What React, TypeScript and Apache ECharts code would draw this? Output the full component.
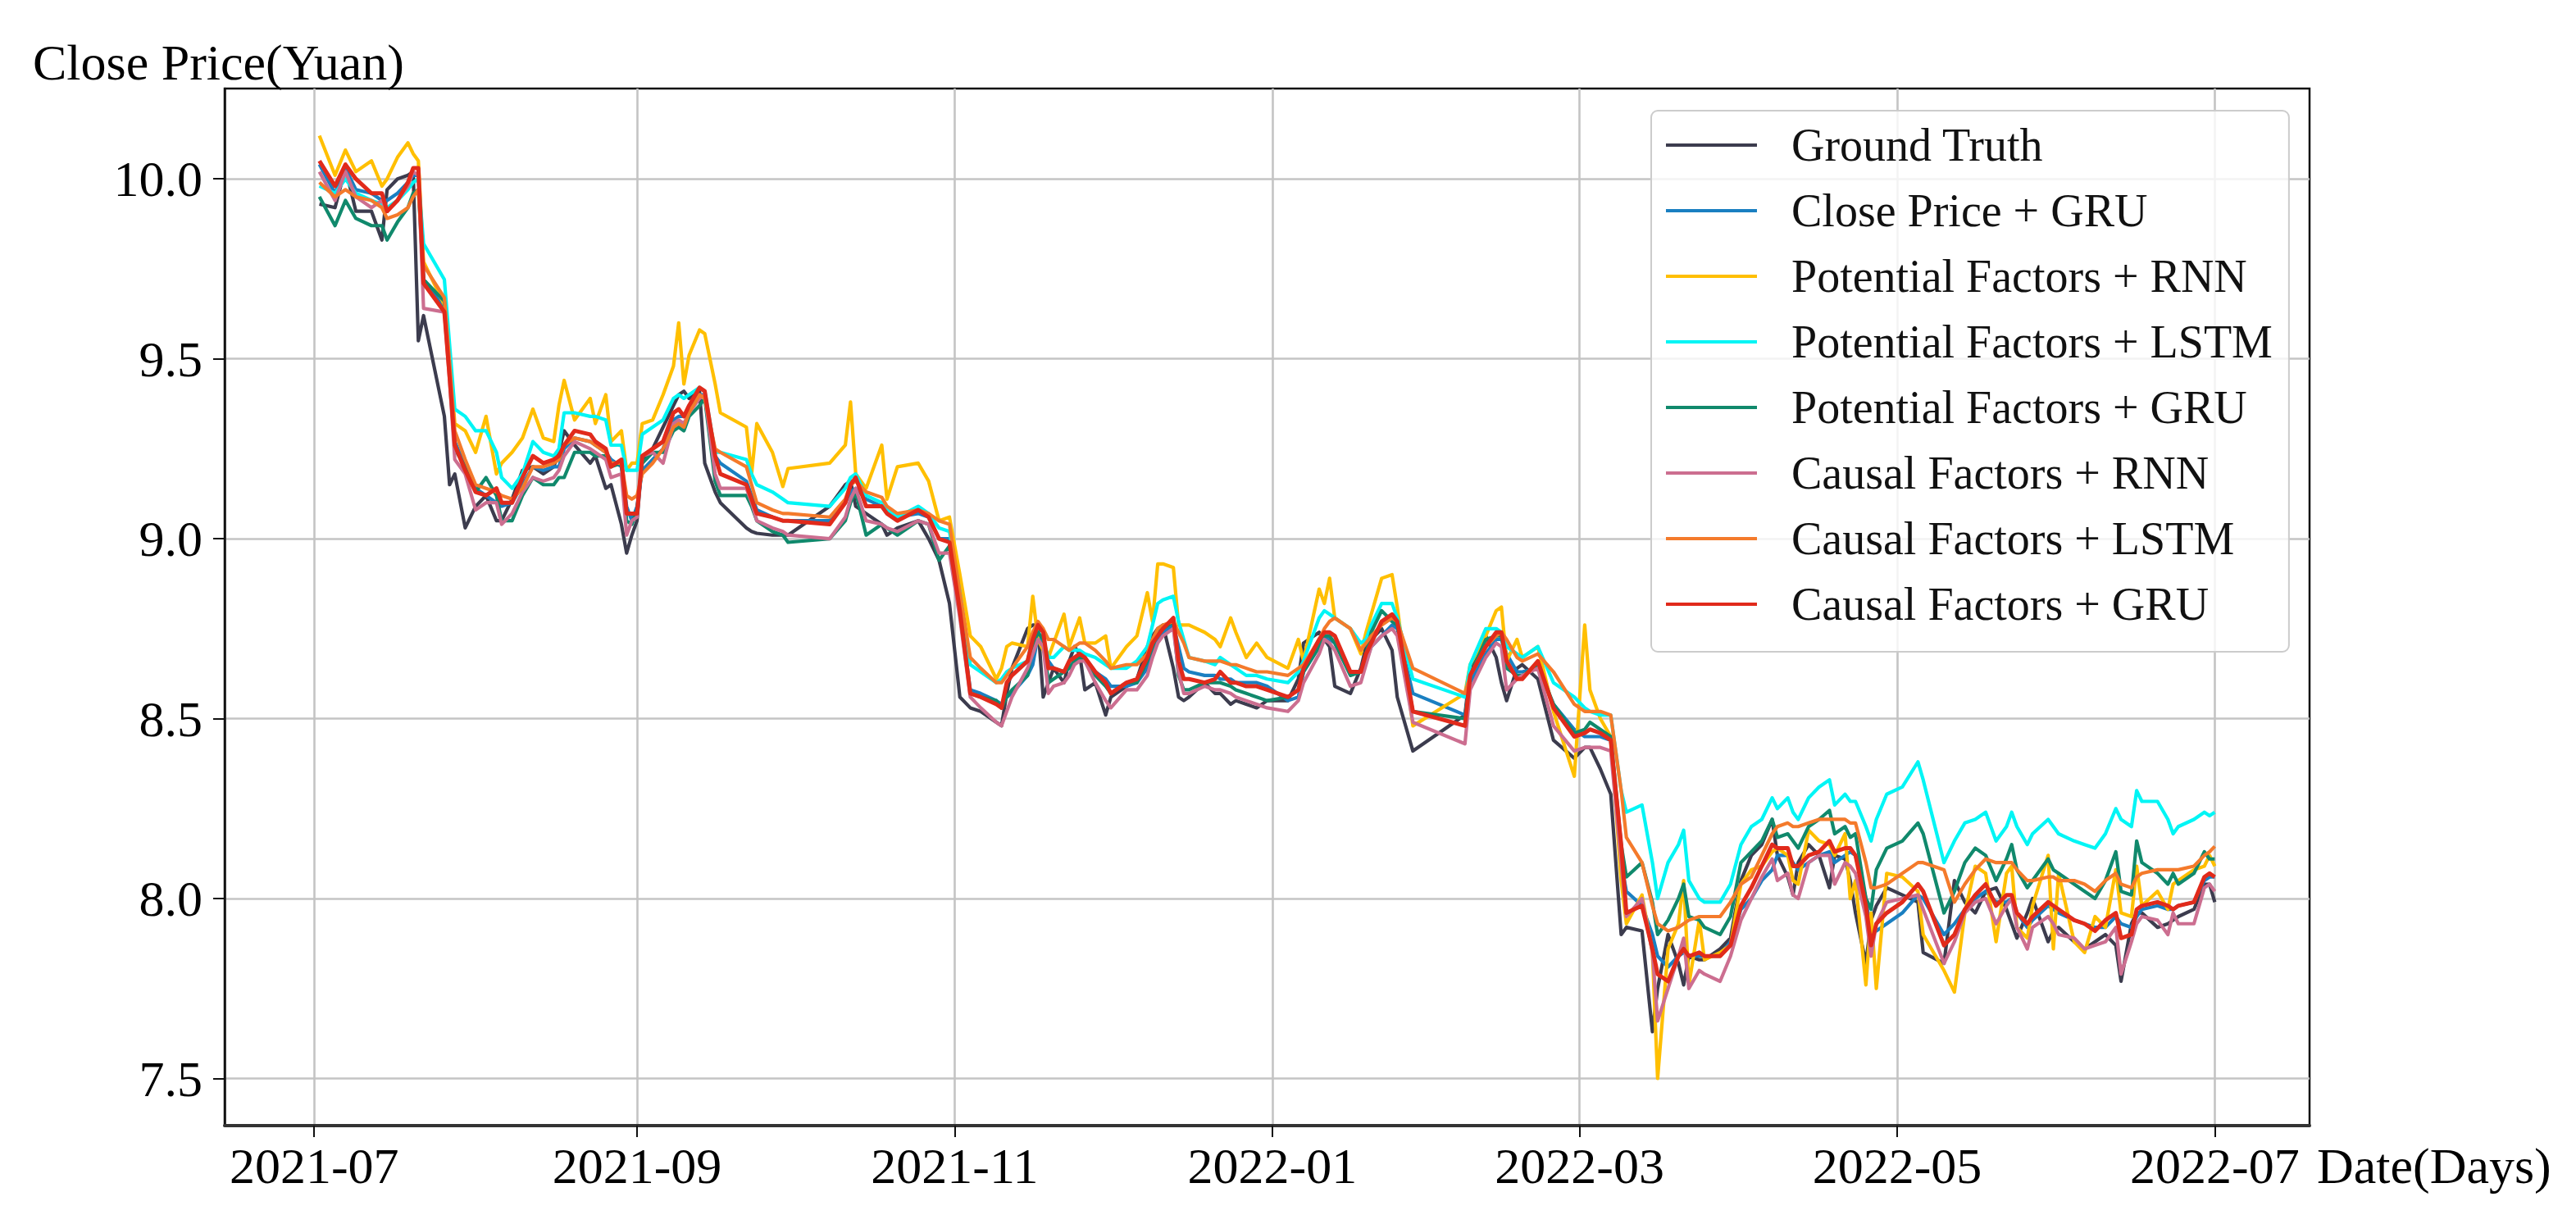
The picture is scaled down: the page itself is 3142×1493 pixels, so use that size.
import React, { useEffect, useRef } from "react";
import * as echarts from "echarts";

const SERIES_NAMES = [
  "Ground Truth",
  "Close Price + GRU",
  "Potential Factors + RNN",
  "Potential Factors + LSTM",
  "Potential Factors + GRU",
  "Causal Factors + RNN",
  "Causal Factors + LSTM",
  "Causal Factors + GRU",
];
const SERIES_COLORS = ["#3c3c4e", "#1a7fc1", "#ffbf00", "#00f5f5", "#10896c", "#cc6e90", "#f47a2b", "#e12a1b"];

const DATES = [
  "2021-07-02", "2021-07-05", "2021-07-07", "2021-07-09", "2021-07-12", "2021-07-14", "2021-07-15", "2021-07-17", "2021-07-19", "2021-07-20",
  "2021-07-21", "2021-07-22", "2021-07-26", "2021-07-27", "2021-07-28", "2021-07-30", "2021-08-01", "2021-08-03", "2021-08-05", "2021-08-06",
  "2021-08-08", "2021-08-10", "2021-08-12", "2021-08-14", "2021-08-16", "2021-08-17", "2021-08-18", "2021-08-20", "2021-08-23", "2021-08-24",
  "2021-08-26", "2021-08-27", "2021-08-29", "2021-08-30", "2021-08-31",
  "2021-09-01", "2021-09-02", "2021-09-04", "2021-09-06", "2021-09-08", "2021-09-09", "2021-09-10", "2021-09-11", "2021-09-13", "2021-09-14",
  "2021-09-16", "2021-09-17", "2021-09-22", "2021-09-23", "2021-09-24", "2021-09-27", "2021-09-29", "2021-09-30", "2021-10-08", "2021-10-11",
  "2021-10-12", "2021-10-13", "2021-10-15", "2021-10-18", "2021-10-19", "2021-10-21", "2021-10-25", "2021-10-27", "2021-10-29",
  "2021-10-31", "2021-11-02", "2021-11-04", "2021-11-06", "2021-11-09", "2021-11-10", "2021-11-11", "2021-11-12", "2021-11-15", "2021-11-16",
  "2021-11-17", "2021-11-18", "2021-11-19", "2021-11-20", "2021-11-22", "2021-11-23", "2021-11-24", "2021-11-25", "2021-11-26", "2021-11-28",
  "2021-11-30", "2021-12-01", "2021-12-04", "2021-12-06", "2021-12-08", "2021-12-09", "2021-12-10", "2021-12-11", "2021-12-13", "2021-12-14",
  "2021-12-15", "2021-12-16", "2021-12-19", "2021-12-21", "2021-12-22", "2021-12-24", "2021-12-25", "2021-12-27", "2021-12-29", "2021-12-31",
  "2022-01-04", "2022-01-06", "2022-01-07", "2022-01-10", "2022-01-11", "2022-01-12", "2022-01-13", "2022-01-16", "2022-01-18", "2022-01-19",
  "2022-01-20", "2022-01-22", "2022-01-24", "2022-01-25", "2022-01-28", "2022-02-07", "2022-02-08", "2022-02-11", "2022-02-13", "2022-02-14",
  "2022-02-15", "2022-02-17", "2022-02-18", "2022-02-21",
  "2022-02-24", "2022-02-28", "2022-03-02", "2022-03-03", "2022-03-05", "2022-03-07", "2022-03-09", "2022-03-10", "2022-03-13", "2022-03-15",
  "2022-03-16", "2022-03-18", "2022-03-20", "2022-03-21", "2022-03-22", "2022-03-24", "2022-03-25", "2022-03-28", "2022-03-30", "2022-04-01",
  "2022-04-03", "2022-04-05", "2022-04-07", "2022-04-08", "2022-04-10", "2022-04-11", "2022-04-12", "2022-04-14", "2022-04-16", "2022-04-18",
  "2022-04-19", "2022-04-21", "2022-04-22", "2022-04-23", "2022-04-25", "2022-04-26", "2022-04-27", "2022-04-29",
  "2022-05-02", "2022-05-05", "2022-05-06", "2022-05-10", "2022-05-12", "2022-05-14", "2022-05-16", "2022-05-18", "2022-05-20", "2022-05-22",
  "2022-05-23", "2022-05-24", "2022-05-26", "2022-05-27", "2022-05-30", "2022-05-31", "2022-06-01", "2022-06-04", "2022-06-06", "2022-06-08",
  "2022-06-10", "2022-06-12", "2022-06-13", "2022-06-15", "2022-06-16", "2022-06-17", "2022-06-20", "2022-06-22", "2022-06-23", "2022-06-24",
  "2022-06-27", "2022-06-29", "2022-06-30", "2022-07-01",
];

const GROUND_TRUTH = [
  9.93, 9.92, 10.03, 9.91, 9.91, 9.83, 9.97, 10.0, 10.01, 10.02, 9.55, 9.62, 9.34, 9.15, 9.18, 9.03, 9.09, 9.12, 9.05, 9.05,
  9.11, 9.19, 9.2, 9.18, 9.2, 9.24, 9.3, 9.26, 9.21, 9.23, 9.14, 9.15, 9.04, 8.96, 9.01,
  9.05, 9.22, 9.25, 9.31, 9.37, 9.4, 9.41, 9.39, 9.41, 9.21, 9.13, 9.1, 9.03, 9.02, 9.015, 9.01, 9.01, 9.01, 9.09, 9.15,
  9.16, 9.09, 9.07, 9.04, 9.01, 9.03, 9.05, 9.0, 8.94,
  8.82, 8.56, 8.53, 8.52, 8.49, 8.48, 8.57, 8.64, 8.75, 8.76, 8.76, 8.56, 8.6, 8.64, 8.6, 8.66, 8.7, 8.68, 8.58, 8.6,
  8.51, 8.56, 8.59, 8.61, 8.7, 8.73, 8.75, 8.76, 8.64, 8.56, 8.55, 8.56, 8.6, 8.57, 8.57, 8.54, 8.55, 8.54, 8.53, 8.55,
  8.55, 8.61, 8.71, 8.74, 8.72, 8.7, 8.59, 8.57, 8.64, 8.7, 8.72, 8.75, 8.69, 8.56, 8.41, 8.51, 8.64, 8.73, 8.67, 8.6,
  8.55, 8.64, 8.65, 8.61,
  8.44, 8.39, 8.42, 8.42, 8.36, 8.29, 7.9, 7.92, 7.91, 7.63, 7.75, 7.9, 7.82, 7.76, 7.84, 7.83, 7.83, 7.86, 7.89, 8.05,
  8.12, 8.15, 8.22, 8.12, 8.06, 8.01, 8.1, 8.15, 8.12, 8.03, 8.12, 8.11, 8.05, 7.96, 7.82, 7.94, 7.98, 8.03,
  8.01, 7.99, 7.85, 7.82, 8.05, 7.99, 7.96, 8.02, 8.03, 7.97, 7.93, 7.89, 7.96, 8.0, 7.88, 7.91, 7.92, 7.88, 7.86, 7.88,
  7.9, 7.87, 7.77, 7.93, 7.96, 7.96, 7.92, 7.93, 7.94, 7.95, 7.97, 8.04, 8.04, 7.99,
];

const CLOSE_PRICE_GRU = [
  10.04, 9.96, 10.03, 9.97, 9.96, 9.94, 9.94, 9.96, 9.99, 10.01, 10.01, 9.72, 9.64, 9.46, 9.27, 9.2, 9.14, 9.12, 9.1, 9.09,
  9.1, 9.15, 9.2, 9.19, 9.2, 9.2, 9.25, 9.28, 9.27, 9.26, 9.24, 9.22, 9.2, 9.09, 9.05,
  9.09, 9.19, 9.22, 9.25, 9.33, 9.34, 9.34, 9.37, 9.4, 9.4, 9.23, 9.21, 9.16, 9.12, 9.08, 9.06, 9.05, 9.05, 9.05, 9.1,
  9.13, 9.14, 9.11, 9.09, 9.07, 9.06, 9.07, 9.06, 9.0,
  9.0, 8.8, 8.58, 8.57, 8.55, 8.54, 8.56, 8.57, 8.62, 8.65, 8.73, 8.7, 8.66, 8.64, 8.63, 8.64, 8.66, 8.67, 8.67, 8.63,
  8.61, 8.59, 8.59, 8.6, 8.64, 8.68, 8.72, 8.74, 8.76, 8.7, 8.64, 8.63, 8.62, 8.62, 8.61, 8.61, 8.6, 8.6, 8.6, 8.59,
  8.55, 8.56, 8.63, 8.7, 8.73, 8.72, 8.71, 8.63, 8.63, 8.66, 8.7, 8.73, 8.76, 8.75, 8.57, 8.51, 8.6, 8.68, 8.72, 8.72,
  8.68, 8.63, 8.63, 8.64,
  8.54, 8.47, 8.45, 8.45, 8.45, 8.44, 8.1, 8.02, 7.98, 7.9, 7.84, 7.81, 7.84, 7.85, 7.84, 7.84, 7.84, 7.84, 7.88, 7.97,
  8.0, 8.05, 8.08, 8.12, 8.12, 8.1, 8.08, 8.1, 8.12, 8.13, 8.1, 8.12, 8.13, 8.12, 8.0, 7.9, 7.91, 7.93,
  7.96, 8.01, 8.0, 7.9, 7.93, 7.97, 8.0, 8.02, 7.99, 7.99, 8.0, 7.96, 7.92, 7.94, 7.98, 7.97, 7.96, 7.94, 7.93, 7.92,
  7.92, 7.95, 7.93, 7.92, 7.95, 7.97, 7.98, 7.97, 7.97, 7.98, 7.99, 8.05, 8.06, 8.06,
];

const POTENTIAL_RNN = [
  10.12, 10.01, 10.08, 10.02, 10.05, 9.98, 10.0, 10.06, 10.1, 10.07, 10.05, 9.77, 9.65, 9.5, 9.32, 9.3, 9.24, 9.34, 9.18, 9.21,
  9.24, 9.28, 9.36, 9.28, 9.27, 9.37, 9.44, 9.33, 9.39, 9.32, 9.4, 9.27, 9.3, 9.19, 9.21,
  9.21, 9.32, 9.33, 9.4, 9.48, 9.6, 9.43, 9.51, 9.58, 9.57, 9.43, 9.35, 9.31, 9.18, 9.32, 9.24, 9.145, 9.195, 9.21, 9.26,
  9.38, 9.18, 9.14, 9.26, 9.11, 9.2, 9.21, 9.16, 9.05,
  9.06, 8.9, 8.73, 8.7, 8.61, 8.64, 8.7, 8.71, 8.7, 8.84, 8.72, 8.69, 8.67, 8.71, 8.79, 8.7, 8.74, 8.78, 8.71, 8.71,
  8.73, 8.64, 8.7, 8.73, 8.85, 8.77, 8.93, 8.93, 8.92, 8.76, 8.76, 8.76, 8.74, 8.72, 8.7, 8.78, 8.74, 8.67, 8.71, 8.67,
  8.64, 8.72, 8.66, 8.86, 8.82, 8.89, 8.78, 8.75, 8.68, 8.74, 8.79, 8.89, 8.9, 8.81, 8.48, 8.57, 8.65, 8.73, 8.8, 8.81,
  8.66, 8.72, 8.67, 8.7,
  8.52, 8.34, 8.76, 8.58, 8.5, 8.45, 8.05, 7.93, 8.01, 7.85, 7.5, 7.86, 7.93, 8.05, 7.76, 7.94, 7.83, 7.85, 7.87, 8.04,
  8.08, 8.09, 8.13, 8.14, 8.12, 8.05, 8.04, 8.19, 8.16, 8.15, 8.12, 8.18, 8.0, 8.05, 7.76, 7.96, 7.75, 8.07,
  8.06, 8.02, 7.9, 7.8, 7.74, 7.96, 8.09, 8.07, 7.88, 8.07, 8.09, 7.92, 7.89, 7.98, 8.12, 7.86, 8.07, 7.88, 7.85, 7.95,
  7.92, 8.08, 7.96, 7.95, 8.09, 7.98, 8.02, 7.97, 8.04, 8.05, 8.08, 8.09, 8.12, 8.09,
];

const POTENTIAL_LSTM = [
  9.98, 9.96, 10.0, 9.96, 9.94, 9.93, 9.92, 9.94, 9.97, 9.99, 10.0, 9.82, 9.72, 9.54, 9.36, 9.34, 9.3, 9.3, 9.24, 9.17,
  9.14, 9.18, 9.27, 9.24, 9.23, 9.25, 9.35, 9.35, 9.34, 9.34, 9.33, 9.26, 9.26, 9.19, 9.19,
  9.19, 9.29, 9.31, 9.33, 9.39, 9.4, 9.39, 9.4, 9.42, 9.41, 9.24, 9.24, 9.22, 9.18, 9.15, 9.13, 9.11, 9.1, 9.09, 9.14,
  9.17, 9.18, 9.12, 9.1, 9.08, 9.06, 9.09, 9.07, 9.03,
  9.02, 8.85, 8.65, 8.63, 8.6, 8.61, 8.63, 8.64, 8.66, 8.73, 8.74, 8.72, 8.67, 8.67, 8.7, 8.69, 8.69, 8.69, 8.68, 8.67,
  8.65, 8.64, 8.64, 8.66, 8.7, 8.76, 8.82, 8.83, 8.84, 8.77, 8.72, 8.67, 8.66, 8.65, 8.67, 8.65, 8.64, 8.62, 8.62, 8.61,
  8.6, 8.63, 8.66, 8.78, 8.8, 8.79, 8.78, 8.75, 8.71, 8.72, 8.76, 8.82, 8.82, 8.78, 8.61, 8.56, 8.65, 8.75, 8.75, 8.74,
  8.7, 8.68, 8.67, 8.7,
  8.6, 8.56, 8.53, 8.52, 8.51, 8.51, 8.3, 8.24, 8.26, 8.1, 8.0, 8.1, 8.15, 8.19, 8.05, 8.0, 7.99, 7.99, 8.04, 8.15,
  8.2, 8.22, 8.28, 8.25, 8.28, 8.24, 8.22, 8.28, 8.31, 8.33, 8.26, 8.29, 8.27, 8.27, 8.2, 8.16, 8.22, 8.29,
  8.31, 8.38, 8.33, 8.1, 8.16, 8.21, 8.22, 8.24, 8.16, 8.2, 8.24, 8.2, 8.15, 8.18, 8.22, 8.2, 8.18, 8.16, 8.15, 8.14,
  8.18, 8.25, 8.22, 8.2, 8.3, 8.27, 8.27, 8.22, 8.18, 8.2, 8.22, 8.24, 8.23, 8.24,
];

const POTENTIAL_GRU = [
  9.95, 9.87, 9.94, 9.89, 9.87, 9.87, 9.83, 9.88, 9.92, 9.96, 9.97, 9.72, 9.66, 9.46, 9.25, 9.2, 9.13, 9.17, 9.12, 9.05,
  9.05, 9.12, 9.17, 9.15, 9.15, 9.17, 9.17, 9.24, 9.24, 9.23, 9.23, 9.2, 9.21, 9.05, 9.04,
  9.08, 9.21, 9.24, 9.24, 9.3, 9.31, 9.3, 9.34, 9.37, 9.39, 9.16, 9.12, 9.12, 9.09, 9.05, 9.02, 9.01, 8.99, 9.0, 9.05,
  9.1, 9.13, 9.01, 9.04, 9.03, 9.01, 9.05, 9.04, 8.94,
  8.98, 8.8, 8.57, 8.56, 8.55, 8.53, 8.56, 8.58, 8.62, 8.7, 8.74, 8.72, 8.6, 8.61, 8.63, 8.64, 8.66, 8.67, 8.66, 8.62,
  8.59, 8.57, 8.6, 8.6, 8.66, 8.7, 8.74, 8.75, 8.77, 8.62, 8.58, 8.58, 8.6, 8.6, 8.6, 8.59, 8.58, 8.57, 8.56, 8.55,
  8.56, 8.58, 8.63, 8.7, 8.73, 8.73, 8.71, 8.62, 8.63, 8.68, 8.74, 8.8, 8.77, 8.76, 8.52, 8.5, 8.62, 8.72, 8.73, 8.73,
  8.64, 8.62, 8.62, 8.65,
  8.54, 8.46, 8.47, 8.49, 8.47, 8.45, 8.15, 8.06, 8.1, 7.99, 7.9, 7.94, 8.0, 8.04, 7.95, 7.94, 7.92, 7.9, 7.95, 8.1,
  8.13, 8.16, 8.22, 8.17, 8.18, 8.16, 8.14, 8.2, 8.22, 8.245, 8.18, 8.2, 8.17, 8.18, 8.0, 7.97, 8.08, 8.14,
  8.16, 8.21, 8.18, 7.96, 8.02, 8.1, 8.14, 8.12, 8.05, 8.11, 8.15, 8.08, 8.03, 8.05, 8.11, 8.08, 8.07, 8.04, 8.02, 8.0,
  8.05, 8.13, 8.02, 8.01, 8.16, 8.1, 8.07, 8.04, 8.07, 8.04, 8.07, 8.13, 8.11, 8.11,
];

const CAUSAL_RNN = [
  10.02, 9.94, 10.02, 9.95, 9.92, 9.94, 9.91, 9.94, 9.98, 10.02, 10.01, 9.64, 9.63, 9.44, 9.22, 9.18, 9.08, 9.1, 9.1, 9.04,
  9.07, 9.13, 9.17, 9.16, 9.17, 9.19, 9.23, 9.27, 9.25, 9.24, 9.22, 9.17, 9.18, 9.01, 9.05,
  9.06, 9.23, 9.24, 9.21, 9.32, 9.33, 9.32, 9.35, 9.39, 9.4, 9.18, 9.14, 9.14, 9.1, 9.05, 9.03, 9.02, 9.01, 9.0, 9.06,
  9.11, 9.14, 9.05, 9.04, 9.03, 9.02, 9.05, 9.04, 8.96,
  8.96, 8.78, 8.56, 8.53, 8.49, 8.48, 8.52, 8.56, 8.64, 8.68, 8.72, 8.7, 8.57, 8.59, 8.6, 8.62, 8.65, 8.66, 8.66, 8.6,
  8.55, 8.53, 8.58, 8.58, 8.62, 8.67, 8.71, 8.73, 8.75, 8.63, 8.57, 8.57, 8.59, 8.58, 8.58, 8.57, 8.56, 8.55, 8.54, 8.53,
  8.52, 8.55, 8.6, 8.68, 8.72, 8.71, 8.69, 8.59, 8.6, 8.65, 8.7, 8.73, 8.75, 8.73, 8.49, 8.43, 8.58, 8.67, 8.71, 8.7,
  8.58, 8.61, 8.62, 8.64,
  8.48, 8.41, 8.42, 8.42, 8.42, 8.41, 8.1, 7.95, 8.0, 7.85, 7.66, 7.75, 7.84, 7.89, 7.75, 7.8, 7.79, 7.77, 7.84, 7.94,
  8.0, 8.06, 8.11, 8.05, 8.07, 8.01, 8.0, 8.1, 8.12, 8.12, 8.04, 8.1, 8.09, 8.07, 7.95, 7.84, 7.93, 7.99,
  8.0, 8.01, 7.97, 7.82, 7.88, 7.96, 7.99, 8.0, 7.93, 7.98, 8.0, 7.92, 7.86, 7.92, 7.95, 7.93, 7.9, 7.89, 7.86, 7.87,
  7.88, 7.92, 7.79, 7.88, 7.93, 7.95, 7.94, 7.9, 7.96, 7.93, 7.93, 8.03, 8.04, 8.02,
];

const CAUSAL_LSTM = [
  9.99, 9.95, 9.97, 9.95, 9.94, 9.92, 9.89, 9.9, 9.92, 9.95, 9.97, 9.76, 9.67, 9.49, 9.3, 9.22, 9.15, 9.14, 9.13, 9.12,
  9.11, 9.14, 9.2, 9.2, 9.21, 9.22, 9.26, 9.28, 9.27, 9.26, 9.24, 9.21, 9.21, 9.12, 9.11,
  9.12, 9.18, 9.21, 9.25, 9.31, 9.32, 9.31, 9.35, 9.4, 9.39, 9.25, 9.24, 9.2, 9.15, 9.1, 9.08, 9.07, 9.07, 9.06, 9.11,
  9.15, 9.16, 9.13, 9.115, 9.09, 9.07, 9.08, 9.07, 9.05,
  9.04, 8.85, 8.67, 8.64, 8.6, 8.6, 8.62, 8.64, 8.7, 8.74, 8.77, 8.75, 8.72, 8.72, 8.7, 8.69, 8.7, 8.71, 8.71, 8.69,
  8.66, 8.64, 8.65, 8.65, 8.68, 8.72, 8.75, 8.76, 8.77, 8.74, 8.71, 8.67, 8.66, 8.66, 8.66, 8.65, 8.65, 8.64, 8.63, 8.63,
  8.62, 8.64, 8.65, 8.72, 8.75, 8.77, 8.78, 8.75, 8.69, 8.71, 8.73, 8.76, 8.78, 8.77, 8.64, 8.57, 8.62, 8.7, 8.73, 8.74,
  8.72, 8.67, 8.66, 8.68,
  8.63, 8.54, 8.52, 8.52, 8.52, 8.51, 8.3, 8.17, 8.1, 7.98, 7.93, 7.91, 7.92, 7.93, 7.94, 7.95, 7.95, 7.95, 7.99, 8.04,
  8.06, 8.12, 8.18, 8.2, 8.21, 8.2, 8.2, 8.21, 8.22, 8.22, 8.22, 8.22, 8.21, 8.21, 8.1, 8.03, 8.03, 8.04,
  8.07, 8.1, 8.1, 8.08, 7.99, 8.04, 8.08, 8.11, 8.1, 8.1, 8.1, 8.08, 8.05, 8.05, 8.06, 8.06, 8.05, 8.05, 8.04, 8.02,
  8.05, 8.07, 8.04, 8.03, 8.06, 8.07, 8.08, 8.08, 8.08, 8.08, 8.09, 8.12, 8.13, 8.145,
];

const CAUSAL_GRU = [
  10.05, 9.98, 10.04, 10.0, 9.96, 9.96, 9.91, 9.94, 9.99, 10.03, 10.03, 9.71, 9.63, 9.45, 9.26, 9.19, 9.13, 9.12, 9.14, 9.1,
  9.1, 9.17, 9.23, 9.21, 9.22, 9.23, 9.26, 9.3, 9.29, 9.27, 9.25, 9.2, 9.22, 9.07, 9.07,
  9.07, 9.23, 9.25, 9.27, 9.35, 9.36, 9.34, 9.37, 9.42, 9.41, 9.23, 9.18, 9.15, 9.11, 9.07, 9.06, 9.05, 9.05, 9.04, 9.1,
  9.15, 9.17, 9.09, 9.09, 9.07, 9.05, 9.08, 9.06, 9.0,
  8.99, 8.8, 8.57, 8.56, 8.54, 8.53, 8.6, 8.62, 8.66, 8.72, 8.76, 8.74, 8.64, 8.64, 8.63, 8.66, 8.67, 8.68, 8.67, 8.63,
  8.6, 8.57, 8.6, 8.61, 8.67, 8.71, 8.73, 8.75, 8.78, 8.66, 8.61, 8.61, 8.6, 8.61, 8.63, 8.6, 8.6, 8.59, 8.59, 8.58,
  8.56, 8.58, 8.64, 8.72, 8.74, 8.74, 8.73, 8.63, 8.63, 8.68, 8.71, 8.77, 8.79, 8.77, 8.52, 8.48, 8.62, 8.7, 8.74, 8.74,
  8.66, 8.61, 8.61, 8.66,
  8.53, 8.45, 8.46, 8.47, 8.46, 8.44, 8.15, 7.96, 7.98, 7.86, 7.79, 7.77, 7.84, 7.86, 7.84, 7.85, 7.84, 7.84, 7.87, 7.98,
  8.03, 8.09, 8.15, 8.14, 8.14, 8.09, 8.09, 8.12, 8.13, 8.16, 8.13, 8.14, 8.14, 8.12, 7.98, 7.87, 7.93, 7.96,
  7.99, 8.04, 8.02, 7.87, 7.9, 7.97, 8.01, 8.04, 7.98, 8.01, 8.01, 7.96, 7.93, 7.95, 7.99, 7.98, 7.97, 7.94, 7.93, 7.91,
  7.94, 7.96, 7.89, 7.9, 7.97, 7.98, 7.99, 7.98, 7.97, 7.98, 7.99, 8.06, 8.07, 8.06,
];

const SERIES_VALUES = [
  GROUND_TRUTH,
  CLOSE_PRICE_GRU,
  POTENTIAL_RNN,
  POTENTIAL_LSTM,
  POTENTIAL_GRU,
  CAUSAL_RNN,
  CAUSAL_LSTM,
  CAUSAL_GRU,
];

const X_TICKS = ["2021-07-01", "2021-09-01", "2021-11-01", "2022-01-01", "2022-03-01", "2022-05-01", "2022-07-01"];
const Y_TICKS = [7.5, 8.0, 8.5, 9.0, 9.5, 10.0];

const Y_TITLE = "Close Price(Yuan)";
const X_TITLE = "Date(Days)";

const FONT = "'Liberation Serif', 'Times New Roman', serif";

function toMs(s: string): number {
  const [y, m, d] = s.split("-").map(Number);
  return Date.UTC(y, m - 1, d);
}

export default function App() {
  const ref = useRef<HTMLDivElement>(null);

  useEffect(() => {
    document.body.style.margin = "0";
    if (!ref.current) return;
    const chart = echarts.init(ref.current, undefined, { renderer: "svg" });

    const xs = DATES.map(toMs);
    const xFirst = xs[0];
    const xLast = xs[xs.length - 1];
    const xSpan = xLast - xFirst;
    const allVals = SERIES_VALUES.flat();
    const yMinD = Math.min(...allVals);
    const yMaxD = Math.max(...allVals);
    const ySpan = yMaxD - yMinD;

    const series = SERIES_NAMES.map((name, i) => ({
      name,
      type: "line",
      data: xs.map((x, j) => [x, SERIES_VALUES[i][j]]),
      showSymbol: false,
      symbol: "none",
      lineStyle: { color: SERIES_COLORS[i], width: i === 7 ? 5 : 4.2, join: "round" },
      itemStyle: { color: SERIES_COLORS[i] },
      emphasis: { disabled: true },
      z: 3 + i,
    }));

    chart.setOption({
      animation: false,
      backgroundColor: "#ffffff",
      grid: {
        left: 274,
        right: 325,
        top: 108,
        bottom: 120,
        show: true,
        borderColor: "#111111",
        borderWidth: 2.5,
        containLabel: false,
      },
      xAxis: {
        type: "value",
        min: xFirst - 0.05 * xSpan,
        max: xLast + 0.05 * xSpan,
        axisLine: { show: true, onZero: false, lineStyle: { color: "#333333", width: 4 } },
        axisTick: {
          show: true,
          length: 14,
          customValues: X_TICKS.map(toMs),
          lineStyle: { color: "#111111", width: 2 },
        },
        axisLabel: {
          customValues: X_TICKS.map(toMs),
          margin: 49,
          verticalAlign: "middle",
          fontFamily: FONT,
          fontSize: 62,
          color: "#000000",
          formatter: (v: number) => {
            const d = new Date(v);
            return `${d.getUTCFullYear()}-${String(d.getUTCMonth() + 1).padStart(2, "0")}`;
          },
        },
        splitLine: { show: true, lineStyle: { color: "#c4c4c4", width: 2.6 } },
      },
      yAxis: {
        type: "value",
        min: yMinD - 0.05 * ySpan,
        max: yMaxD + 0.05 * ySpan,
        axisLine: { show: true, lineStyle: { color: "#111111", width: 2.5 } },
        axisTick: {
          show: true,
          length: 14,
          customValues: Y_TICKS,
          lineStyle: { color: "#111111", width: 2 },
        },
        axisLabel: {
          customValues: Y_TICKS,
          margin: 27,
          fontFamily: FONT,
          fontSize: 62,
          color: "#000000",
          formatter: (v: number) => v.toFixed(1),
        },
        splitLine: { show: true, lineStyle: { color: "#c4c4c4", width: 2.6 } },
      },
      legend: {
        orient: "vertical",
        left: 2014,
        top: 135,
        itemWidth: 111,
        itemHeight: 4,
        itemGap: 24,
        icon: "rect",
        padding: [14, 20, 30, 18],
        backgroundColor: "rgba(255,255,255,0.8)",
        borderColor: "#cccccc",
        borderWidth: 2,
        borderRadius: 8,
        textStyle: {
          fontFamily: FONT,
          fontSize: 56,
          lineHeight: 56,
          color: "#111111",
          padding: [0, 0, 0, 37],
        },
        data: SERIES_NAMES,
        selectedMode: false,
      },
      graphic: [
        {
          type: "text",
          x: 40,
          y: 76,
          style: {
            text: Y_TITLE,
            fontFamily: FONT,
            fontSize: 62,
            fill: "#000000",
            align: "left",
            verticalAlign: "middle",
          },
        },
        {
          type: "text",
          x: 2826,
          y: 1422,
          style: {
            text: X_TITLE,
            fontFamily: FONT,
            fontSize: 62,
            fill: "#000000",
            align: "left",
            verticalAlign: "middle",
          },
        },
      ],
      series,
    });

    return () => {
      chart.dispose();
    };
  }, []);

  return <div ref={ref} style={{ width: 3142, height: 1493 }} />;
}
